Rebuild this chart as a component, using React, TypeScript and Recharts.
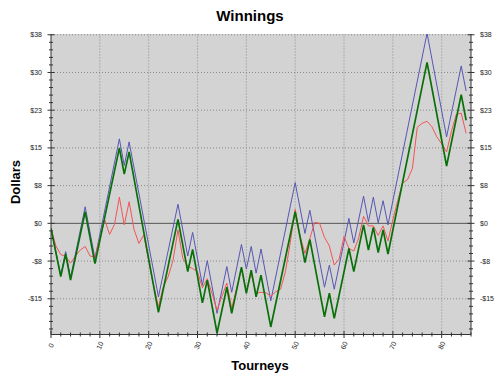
import React from "react";
import { LineChart, Line, XAxis, YAxis, CartesianGrid, ReferenceLine } from "recharts";

// ---- data ----
const greenT = [0, 2, 3, 4, 7, 9, 14, 15, 16, 22, 26, 28, 29, 31, 32, 34, 36, 37, 39, 40, 41, 42, 43, 45, 50, 52, 53, 56, 57, 58, 61, 62, 64, 65, 66, 67, 68, 69, 77, 81, 84, 85];
const greenV = [-1, -10.6, -6.1, -11.3, 2.3, -8.0, 15.0, 9.8, 14.2, -17.7, 0.8, -9.6, -5.2, -15.8, -11.3, -21.8, -12.7, -17.9, -8.7, -13.9, -9.3, -14.6, -10.3, -20.6, 2.3, -7.8, -3.2, -18.6, -13.9, -18.9, -5.0, -9.6, -0.3, -5.3, -0.8, -5.8, -1.3, -6.1, 32.0, 11.4, 25.6, 20.5];

const blueT = [0, 2, 3, 4, 7, 9, 14, 15, 16, 22, 26, 28, 29, 31, 32, 34, 36, 37, 39, 40, 41, 42, 43, 45, 50, 52, 53, 56, 57, 58, 61, 62, 64, 65, 66, 67, 68, 69, 77, 81, 84, 85];
const blueV = [-1, -10.3, -5.6, -10.8, 3.3, -7.0, 16.8, 11.5, 16.2, -14.6, 3.8, -6.5, -1.8, -12.3, -7.4, -17.9, -8.6, -13.7, -4.2, -9.1, -4.6, -9.9, -5.1, -15.4, 8.1, -2.0, 2.6, -12.7, -8.3, -13.1, 1.0, -3.9, 5.4, 0.3, 5.2, 0.1, 4.5, -0.3, 37.8, 17.2, 31.3, 26.3];

const redT = [0, 1, 2, 3, 4, 5, 6, 7, 8, 9, 10, 11, 12, 13, 14, 15, 16, 17, 18, 19, 20, 21, 22, 23, 24, 25, 26, 27, 28, 29, 30, 31, 32, 33, 34, 35, 36, 37, 38, 39, 40, 41, 42, 43, 44, 45, 46, 47, 48, 49, 50, 51, 52, 53, 54, 55, 56, 57, 58, 59, 60, 61, 62, 63, 64, 65, 66, 67, 68, 69, 70, 71, 72, 73, 74, 75, 76, 77, 78, 79, 80, 81, 82, 83, 84, 85];
const redV = [-1, -4.5, -6.2, -6.6, -7.9, -6.5, -5.3, -4.6, -6.5, -6.7, -3, 0.7, -2.2, -0.2, 5.2, -0.3, 4.3, -1.2, -4.0, -2.3, -7.5, -12.3, -16.6, -12.6, -10.6, -7.3, -1.3, -7.0, -8.5, -9.0, -9.6, -12.8, -11.0, -14.0, -17.3, -14.5, -11.9, -16.9, -13.0, -9.0, -13.5, -10.0, -13.9, -13.7, -13.8, -14.5, -13.6, -13.1, -9.6, -3.8, 2.8, -2.5, -6.0, -3.0, 0.2, 0.0, -2.8, -4.5, -8.3, -7.1, -2.6, -5.0, -5.5, -2.9, 1.4, -0.5, -0.5, -2.4, -0.5, -3.5, 0.7, 4.5, 8.0, 8.7, 10.9, 19.1, 19.9, 20.3, 19.2, 17.2, 15.8, 14.2, 18.3, 21.7, 21.9, 17.9];

const xMajorTicks = [0, 10, 20, 30, 40, 50, 60, 70, 80];
const yMajorTicks = [-15, -7.5, 0, 7.5, 15, 22.5, 30, 37.5];
const xDomain = [0, 86];
const yDomain = [-22.1, 37.65];

// minor tick positions (axis decoration only)
const xAllTicks = Array.from({ length: 44 }, (_, i) => i * 2);
const yAllTicks = Array.from({ length: 40 }, (_, i) => -21 + i * 1.5);

const toRows = (ts: number[], vs: number[]) => ts.map((t, i) => ({ t, v: vs[i] }));
const greenData = toRows(greenT, greenV);
const blueData = toRows(blueT, blueV);
const redData = toRows(redT, redV);

const FONT = "'Liberation Sans', Arial, Helvetica, sans-serif";
const AXIS = "#333";
const isMajor = (arr: number[], v: number) => arr.some((m) => Math.abs(m - v) < 1e-6);
const fmtDollar = (v: number) => (v < 0 ? "-$" : "$") + Math.round(Math.abs(v));

const XTickBottom = (props: any) => {
  const { x, y, payload } = props;
  const major = isMajor(xMajorTicks, payload.value);
  const l = major ? 3.5 : 2;
  const ly = y + 11;
  return (
    <g>
      <line x1={x} x2={x} y1={y - l} y2={y + l} stroke={AXIS} strokeWidth={1} />
      {major && (
        <text x={x} y={ly} textAnchor="middle" dominantBaseline="central" fontSize={7} fill="#222" fontFamily={FONT} transform={`rotate(-65, ${x}, ${ly})`}>
          {payload.value}
        </text>
      )}
    </g>
  );
};

const XTickTop = (props: any) => {
  const { x, y, payload } = props;
  const major = isMajor(xMajorTicks, payload.value);
  const l = major ? 3.5 : 2;
  return <line x1={x} x2={x} y1={y - l} y2={y + l} stroke={AXIS} strokeWidth={1} />;
};

const YTickLeft = (props: any) => {
  const { x, y, payload } = props;
  const major = isMajor(yMajorTicks, payload.value);
  const l = major ? 3.5 : 2;
  return (
    <g>
      <line x1={x - l} x2={x + l} y1={y} y2={y} stroke={AXIS} strokeWidth={1} />
      {major && (
        <text x={x - 9} y={y} textAnchor="end" dominantBaseline="central" fontSize={7} fill="#222" fontFamily={FONT}>
          {fmtDollar(payload.value)}
        </text>
      )}
    </g>
  );
};

const YTickRight = (props: any) => {
  const { x, y, payload } = props;
  const major = isMajor(yMajorTicks, payload.value);
  const l = major ? 3.5 : 2;
  return (
    <g>
      <line x1={x - l} x2={x + l} y1={y} y2={y} stroke={AXIS} strokeWidth={1} />
      {major && (
        <text x={x + 9} y={y} textAnchor="start" dominantBaseline="central" fontSize={7} fill="#222" fontFamily={FONT}>
          {fmtDollar(payload.value)}
        </text>
      )}
    </g>
  );
};

export default function App() {
  return (
    <div style={{ position: "absolute", left: 0, top: 0, width: 500, height: 377, background: "#fff" }}>
      <LineChart width={500} height={377} margin={{ top: 34, right: 0, bottom: 0, left: 0 }}>
        <CartesianGrid fill="#d3d3d3" horizontal={false} vertical={false} stroke="none" />
        <XAxis
          type="number"
          dataKey="t"
          domain={xDomain}
          allowDataOverflow
          ticks={xAllTicks}
          interval={0}
          height={42.5}
          tickSize={0}
          tickMargin={0}
          tickLine={false}
          axisLine={{ stroke: AXIS }}
          tick={<XTickBottom />}
        />
        <XAxis
          xAxisId="top"
          orientation="top"
          type="number"
          domain={xDomain}
          allowDataOverflow
          ticks={xAllTicks}
          interval={0}
          height={0}
          tickSize={0}
          tickMargin={0}
          tickLine={false}
          axisLine={{ stroke: AXIS }}
          tick={<XTickTop />}
        />
        <YAxis
          type="number"
          domain={yDomain}
          allowDataOverflow
          ticks={yAllTicks}
          interval={0}
          width={51}
          tickSize={0}
          tickMargin={0}
          tickLine={false}
          axisLine={{ stroke: AXIS }}
          tick={<YTickLeft />}
        />
        <YAxis
          yAxisId="right"
          orientation="right"
          type="number"
          domain={yDomain}
          allowDataOverflow
          ticks={yAllTicks}
          interval={0}
          width={29}
          tickSize={0}
          tickMargin={0}
          tickLine={false}
          axisLine={{ stroke: AXIS }}
          tick={<YTickRight />}
        />
        {xMajorTicks.slice(1).map((v) => (
          <ReferenceLine key={"gx" + v} x={v} stroke="#8a8a8a" strokeDasharray="1 2" />
        ))}
        {yMajorTicks.filter((v) => v !== 0).map((v) => (
          <ReferenceLine key={"gy" + v} y={v} stroke="#8a8a8a" strokeDasharray="1 2" />
        ))}
        <ReferenceLine y={0} stroke="#555" strokeWidth={1} />
        <Line data={blueData} dataKey="v" type="linear" stroke="#5656b4" strokeWidth={1} dot={false} activeDot={false} isAnimationActive={false} />
        <Line data={redData} dataKey="v" type="linear" stroke="#f25555" strokeWidth={1} dot={false} activeDot={false} isAnimationActive={false} />
        <Line data={greenData} dataKey="v" type="linear" stroke="#087008" strokeWidth={1.7} dot={false} activeDot={false} isAnimationActive={false} />
      </LineChart>
      <svg width={500} height={377} style={{ position: "absolute", left: 0, top: 0, pointerEvents: "none" }}>
        <text x={250} y={21} textAnchor="middle" fontSize={15} fontWeight="bold" fontFamily={FONT} fill="#000">
          Winnings
        </text>
        <text x={20} y={182} textAnchor="middle" fontSize={13} fontWeight="bold" fontFamily={FONT} fill="#000" transform="rotate(-90, 20, 182)">
          Dollars
        </text>
        <text x={260} y={370} textAnchor="middle" fontSize={13} fontWeight="bold" fontFamily={FONT} fill="#000">
          Tourneys
        </text>
      </svg>
    </div>
  );
}
